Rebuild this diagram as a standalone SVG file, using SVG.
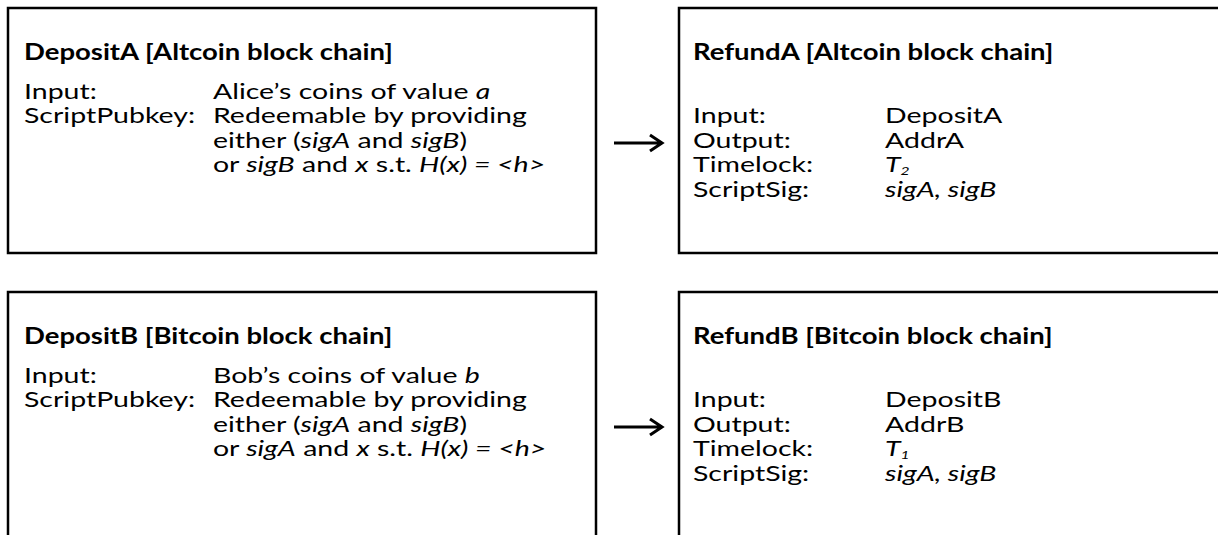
<svg xmlns="http://www.w3.org/2000/svg" width="1218" height="535" viewBox="0 0 1218 535">
<style>
.box{fill:#fff;stroke:#000;stroke-width:2.5}
text{font-family:Lato,"Liberation Sans",sans-serif;font-size:22px;fill:#000}
.t{font-weight:bold}
.i{font-style:italic}
.sub{font-size:12px;font-style:italic}
.arr{stroke:#000;stroke-width:3;fill:none}
</style>
<rect width="1218" height="535" fill="#fff"/>
<g id="depositA">
<rect class="box" x="8" y="8" width="588" height="245"/>
<text class="t" transform="translate(24,60) scale(1.25,1)">DepositA [Altcoin block chain]</text>
<g transform="translate(24,0) scale(1.295,1)">
<text x="0" y="99">Input:</text>
<text x="145.9" y="99">Alice’s coins of value <tspan class="i">a</tspan></text>
<text x="0" y="123.5">ScriptPubkey:</text>
<text x="145.9" y="123.5">Redeemable by providing</text>
<text x="145.9" y="148">either (<tspan class="i">sigA</tspan> and <tspan class="i">sigB</tspan>)</text>
<text x="145.9" y="172.5">or <tspan class="i">sigB</tspan> and <tspan class="i">x</tspan> s.t. <tspan class="i">H(x) = &lt;h&gt;</tspan></text>
</g>
</g>
<g id="refundA">
<rect class="box" x="679" y="8" width="560" height="245"/>
<text class="t" transform="translate(693,60) scale(1.25,1)">RefundA [Altcoin block chain]</text>
<g transform="translate(693,0) scale(1.295,1)">
<text x="0" y="123.5">Input:</text>
<text x="148.3" y="123.5">DepositA</text>
<text x="0" y="148">Output:</text>
<text x="148.3" y="148">AddrA</text>
<text x="0" y="172.5">Timelock:</text>
<text x="148.3" y="172.5"><tspan class="i">T</tspan><tspan class="sub" dy="3">2</tspan></text>
<text x="0" y="197">ScriptSig:</text>
<text x="148.3" y="197" class="i">sigA, sigB</text>
</g>
</g>
<g id="depositB">
<rect class="box" x="8" y="292" width="588" height="260"/>
<text class="t" transform="translate(24,344) scale(1.25,1)">DepositB [Bitcoin block chain]</text>
<g transform="translate(24,284) scale(1.295,1)">
<text x="0" y="99">Input:</text>
<text x="145.9" y="99">Bob’s coins of value <tspan class="i">b</tspan></text>
<text x="0" y="123.5">ScriptPubkey:</text>
<text x="145.9" y="123.5">Redeemable by providing</text>
<text x="145.9" y="148">either (<tspan class="i">sigA</tspan> and <tspan class="i">sigB</tspan>)</text>
<text x="145.9" y="172.5">or <tspan class="i">sigA</tspan> and <tspan class="i">x</tspan> s.t. <tspan class="i">H(x) = &lt;h&gt;</tspan></text>
</g>
</g>
<g id="refundB">
<rect class="box" x="679" y="292" width="560" height="260"/>
<text class="t" transform="translate(693,344) scale(1.25,1)">RefundB [Bitcoin block chain]</text>
<g transform="translate(693,284) scale(1.295,1)">
<text x="0" y="123.5">Input:</text>
<text x="148.3" y="123.5">DepositB</text>
<text x="0" y="148">Output:</text>
<text x="148.3" y="148">AddrB</text>
<text x="0" y="172.5">Timelock:</text>
<text x="148.3" y="172.5"><tspan class="i">T</tspan><tspan class="sub" dy="3">1</tspan></text>
<text x="0" y="197">ScriptSig:</text>
<text x="148.3" y="197" class="i">sigA, sigB</text>
</g>
</g>
<g id="connectors">
<path class="arr" d="M614 143H661M650 135L662 143L650 151"/>
<path class="arr" d="M614 427H661M650 419L662 427L650 435"/>
</g>
</svg>
